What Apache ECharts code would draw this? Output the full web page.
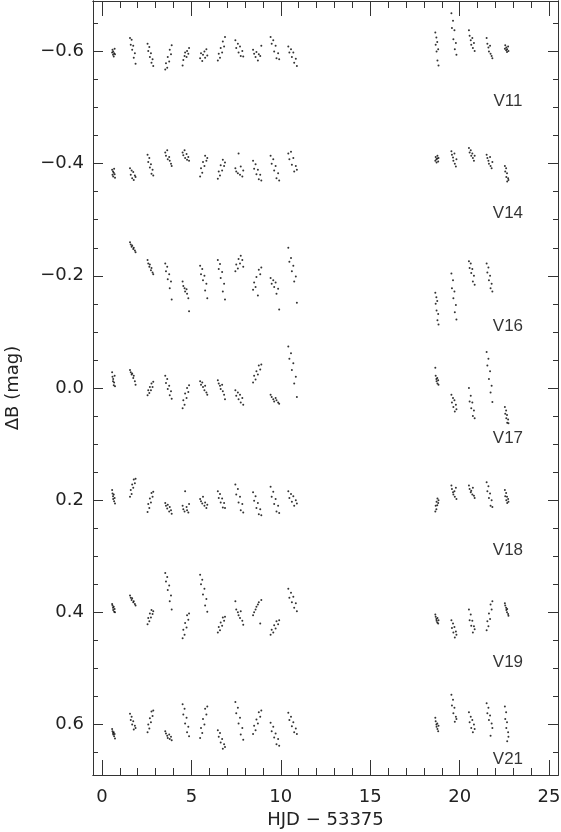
<!DOCTYPE html>
<html>
<head>
<meta charset="utf-8">
<script src="https://cdn.jsdelivr.net/npm/echarts@6.0.0/dist/echarts.min.js"></script>
<style>
  html, body { margin: 0; padding: 0; background: #fff; }
  #chart { width: 561px; height: 832px; }
</style>
</head>
<body>
<div id="chart"></div>
<script>
// observation times (HJD - 53375), same frames for every star
const hjd = [
    0.57, 0.59, 0.62, 0.63, 0.66, 0.68, 0.71, 0.73,
    1.57, 1.61, 1.66, 1.69, 1.75, 1.78, 1.84, 1.88,
    2.55, 2.59, 2.65, 2.68, 2.74, 2.77, 2.83, 2.87,
    3.54, 3.58, 3.65, 3.68, 3.76, 3.79, 3.86, 3.90,
    4.51, 4.55, 4.62, 4.65, 4.73, 4.76, 4.83, 4.87,
    5.49, 5.54, 5.61, 5.65, 5.73, 5.77, 5.84, 5.89,
    6.48, 6.53, 6.60, 6.64, 6.72, 6.76, 6.83, 6.88,
    7.46, 7.51, 7.60, 7.64, 7.72, 7.76, 7.85, 7.90,
    8.45, 8.51, 8.59, 8.64, 8.72, 8.77, 8.85, 8.91,
    9.43, 9.49, 9.58, 9.63, 9.71, 9.76, 9.85, 9.91,
    10.42, 10.48, 10.57, 10.62, 10.70, 10.75, 10.84, 10.90,
    18.64, 18.66, 18.70, 18.71, 18.75, 18.76, 18.80, 18.82,
    19.54, 19.57, 19.63, 19.65, 19.71, 19.73, 19.79, 19.82,
    20.52, 20.56, 20.62, 20.65, 20.71, 20.74, 20.80, 20.84,
    21.51, 21.55, 21.61, 21.64, 21.70, 21.73, 21.79, 21.83,
    22.53, 22.55, 22.60, 22.61, 22.65, 22.66, 22.71, 22.73
];

// delta B (offset per star), one value per time above
const v11 = [
    -0.598, -0.603, -0.594, -0.600, -0.591, -0.597, -0.605, -0.595,
    -0.624, -0.612, -0.621, -0.603, -0.610, -0.589, -0.597, -0.578,
    -0.614, -0.601, -0.608, -0.590, -0.597, -0.580, -0.586, -0.574,
    -0.568, -0.579, -0.571, -0.590, -0.582, -0.603, -0.595, -0.611,
    -0.575, -0.585, -0.592, -0.598, -0.590, -0.601, -0.596, -0.606,
    -0.588, -0.597, -0.583, -0.594, -0.600, -0.589, -0.604, -0.593,
    -0.584, -0.596, -0.589, -0.606, -0.598, -0.618, -0.609, -0.626,
    -0.620, -0.606, -0.614, -0.598, -0.609, -0.592, -0.601, -0.591,
    -0.603, -0.596, -0.590, -0.599, -0.584, -0.595, -0.592, -0.610,
    -0.626, -0.614, -0.620, -0.600, -0.610, -0.588, -0.597, -0.586,
    -0.609, -0.598, -0.604, -0.590, -0.598, -0.580, -0.587, -0.574,
    -0.634, -0.612, -0.625, -0.600, -0.617, -0.584, -0.604, -0.575,
    -0.668, -0.642, -0.655, -0.622, -0.638, -0.604, -0.615, -0.594,
    -0.638, -0.628, -0.620, -0.612, -0.624, -0.606, -0.615, -0.601,
    -0.624, -0.614, -0.607, -0.600, -0.610, -0.596, -0.592, -0.588,
    -0.605, -0.611, -0.602, -0.607, -0.599, -0.604, -0.609, -0.601
];

const v14 = [
    -0.389, -0.380, -0.386, -0.377, -0.384, -0.391, -0.381, -0.375,
    -0.392, -0.380, -0.388, -0.374, -0.385, -0.371, -0.379, -0.376,
    -0.416, -0.403, -0.410, -0.393, -0.399, -0.382, -0.389, -0.379,
    -0.420, -0.414, -0.424, -0.408, -0.412, -0.405, -0.400, -0.396,
    -0.420, -0.415, -0.424, -0.410, -0.417, -0.407, -0.412, -0.405,
    -0.377, -0.392, -0.384, -0.403, -0.396, -0.414, -0.405, -0.410,
    -0.373, -0.386, -0.379, -0.397, -0.388, -0.407, -0.396, -0.402,
    -0.392, -0.386, -0.383, -0.418, -0.380, -0.395, -0.377, -0.388,
    -0.405, -0.391, -0.399, -0.381, -0.389, -0.372, -0.380, -0.370,
    -0.414, -0.400, -0.408, -0.388, -0.396, -0.374, -0.383, -0.370,
    -0.418, -0.408, -0.421, -0.398, -0.410, -0.386, -0.396, -0.389,
    -0.405, -0.412, -0.408, -0.402, -0.409, -0.414, -0.404, -0.410,
    -0.422, -0.416, -0.411, -0.405, -0.418, -0.400, -0.395, -0.408,
    -0.428, -0.420, -0.424, -0.414, -0.418, -0.410, -0.405, -0.414,
    -0.416, -0.410, -0.405, -0.400, -0.412, -0.396, -0.392, -0.403,
    -0.396, -0.386, -0.392, -0.376, -0.383, -0.368, -0.374, -0.371
];

const v16 = [
    null, null, null, null, null, null, null, null,
    -0.260, -0.256, -0.252, -0.254, -0.248, -0.250, -0.245, -0.242,
    -0.228, -0.222, -0.216, -0.220, -0.210, -0.214, -0.206, -0.203,
    -0.222, -0.208, -0.216, -0.194, -0.203, -0.178, -0.190, -0.158,
    -0.190, -0.182, -0.178, -0.172, -0.176, -0.168, -0.160, -0.137,
    -0.218, -0.203, -0.212, -0.192, -0.200, -0.174, -0.186, -0.160,
    -0.228, -0.212, -0.221, -0.196, -0.207, -0.172, -0.186, -0.158,
    -0.208, -0.220, -0.213, -0.230, -0.222, -0.236, -0.228, -0.216,
    -0.175, -0.188, -0.180, -0.198, -0.165, -0.211, -0.203, -0.215,
    -0.196, -0.186, -0.192, -0.180, -0.188, -0.168, -0.177, -0.140,
    -0.250, -0.225, -0.232, -0.208, -0.218, -0.190, -0.199, -0.152,
    -0.170, -0.150, -0.162, -0.138, -0.155, -0.121, -0.132, -0.113,
    -0.204, -0.178, -0.192, -0.160, -0.172, -0.135, -0.148, -0.122,
    -0.226, -0.214, -0.222, -0.205, -0.212, -0.190, -0.200, -0.184,
    -0.222, -0.206, -0.215, -0.192, -0.200, -0.178, -0.186, -0.172,
    null, null, null, null, null, null, null, null
];

const v17 = [
    -0.028, -0.020, -0.012, -0.016, -0.005, -0.010, -0.022, -0.003,
    -0.032, -0.028, -0.024, -0.026, -0.018, -0.022, -0.012, -0.006,
    0.013, 0.004, 0.009, -0.002, 0.004, -0.008, -0.002, -0.011,
    -0.022, -0.009, -0.016, 0.002, -0.004, 0.013, 0.006, 0.019,
    0.036, 0.022, 0.030, 0.010, 0.018, 0.000, 0.007, -0.005,
    -0.012, -0.006, -0.010, -0.002, 0.004, -0.004, 0.008, 0.012,
    -0.014, -0.008, -0.004, 0.002, -0.006, 0.006, 0.012, 0.020,
    0.004, 0.014, 0.008, 0.020, 0.012, 0.026, 0.018, 0.030,
    -0.010, -0.022, -0.015, -0.030, -0.024, -0.040, -0.033, -0.042,
    0.012, 0.016, 0.020, 0.024, 0.018, 0.022, 0.026, 0.028,
    -0.074, -0.052, -0.062, -0.032, -0.044, -0.008, -0.020, 0.016,
    -0.036, -0.022, -0.016, -0.012, -0.018, -0.008, -0.014, -0.006,
    0.012, 0.026, 0.018, 0.034, 0.022, 0.042, 0.030, 0.038,
    0.000, 0.024, 0.014, 0.036, 0.026, 0.050, 0.040, 0.054,
    -0.064, -0.040, -0.052, -0.016, -0.030, 0.008, -0.004, 0.025,
    0.034, 0.046, 0.040, 0.054, 0.048, 0.062, 0.056, 0.063
];

const v18 = [
    0.182, 0.188, 0.193, 0.198, 0.190, 0.202, 0.196, 0.206,
    0.194, 0.182, 0.189, 0.172, 0.178, 0.163, 0.170, 0.162,
    0.221, 0.207, 0.214, 0.197, 0.204, 0.187, 0.194, 0.185,
    0.205, 0.210, 0.215, 0.208, 0.220, 0.212, 0.218, 0.224,
    0.210, 0.216, 0.220, 0.184, 0.212, 0.218, 0.222, 0.207,
    0.198, 0.202, 0.206, 0.194, 0.210, 0.204, 0.214, 0.208,
    0.184, 0.196, 0.189, 0.204, 0.197, 0.213, 0.205, 0.214,
    0.172, 0.190, 0.180, 0.204, 0.194, 0.218, 0.207, 0.222,
    0.186, 0.201, 0.193, 0.214, 0.205, 0.225, 0.216, 0.227,
    0.176, 0.194, 0.185, 0.207, 0.198, 0.220, 0.210, 0.223,
    0.184, 0.196, 0.189, 0.203, 0.193, 0.210, 0.200, 0.206,
    0.220, 0.210, 0.216, 0.203, 0.209, 0.197, 0.205, 0.200,
    0.174, 0.180, 0.186, 0.190, 0.184, 0.194, 0.178, 0.198,
    0.174, 0.180, 0.186, 0.183, 0.190, 0.178, 0.192, 0.196,
    0.168, 0.184, 0.175, 0.196, 0.188, 0.210, 0.200, 0.212,
    0.182, 0.193, 0.187, 0.200, 0.194, 0.205, 0.198, 0.203
];

const v19 = [
    0.385, 0.388, 0.392, 0.396, 0.390, 0.399, 0.394, 0.400,
    0.370, 0.374, 0.378, 0.375, 0.382, 0.380, 0.385, 0.388,
    0.421, 0.410, 0.416, 0.402, 0.409, 0.396, 0.403, 0.398,
    0.330, 0.345, 0.337, 0.360, 0.352, 0.380, 0.370, 0.395,
    0.446, 0.431, 0.440, 0.419, 0.427, 0.405, 0.413, 0.402,
    0.333, 0.350, 0.342, 0.368, 0.358, 0.388, 0.376, 0.399,
    0.436, 0.426, 0.432, 0.418, 0.424, 0.409, 0.415, 0.408,
    0.380, 0.395, 0.400, 0.405, 0.410, 0.398, 0.415, 0.422,
    0.405, 0.400, 0.395, 0.390, 0.386, 0.382, 0.420, 0.378,
    0.440, 0.431, 0.436, 0.423, 0.429, 0.416, 0.421, 0.414,
    0.358, 0.374, 0.365, 0.382, 0.372, 0.392, 0.384, 0.398,
    0.404, 0.408, 0.412, 0.415, 0.418, 0.410, 0.420, 0.414,
    0.414, 0.428, 0.420, 0.436, 0.426, 0.445, 0.434, 0.440,
    0.395, 0.414, 0.404, 0.424, 0.415, 0.436, 0.425, 0.430,
    0.432, 0.416, 0.425, 0.402, 0.412, 0.386, 0.395, 0.380,
    0.384, 0.388, 0.392, 0.396, 0.400, 0.394, 0.403, 0.406
];

const v21 = [
    0.608, 0.612, 0.615, 0.618, 0.614, 0.621, 0.617, 0.625,
    0.581, 0.592, 0.586, 0.600, 0.594, 0.609, 0.602, 0.606,
    0.614, 0.600, 0.607, 0.589, 0.596, 0.577, 0.585, 0.575,
    0.612, 0.616, 0.620, 0.624, 0.618, 0.626, 0.622, 0.628,
    0.564, 0.582, 0.572, 0.598, 0.588, 0.614, 0.604, 0.621,
    0.624, 0.606, 0.615, 0.590, 0.600, 0.572, 0.582, 0.568,
    0.610, 0.622, 0.615, 0.632, 0.626, 0.643, 0.635, 0.640,
    0.560, 0.580, 0.570, 0.598, 0.588, 0.618, 0.606, 0.627,
    0.617, 0.602, 0.610, 0.591, 0.598, 0.578, 0.586, 0.575,
    0.597, 0.612, 0.604, 0.623, 0.616, 0.635, 0.626, 0.638,
    0.579, 0.592, 0.586, 0.603, 0.596, 0.614, 0.607, 0.617,
    0.588, 0.594, 0.600, 0.604, 0.598, 0.608, 0.612, 0.602,
    0.547, 0.566, 0.556, 0.580, 0.570, 0.595, 0.586, 0.590,
    0.578, 0.596, 0.586, 0.606, 0.592, 0.614, 0.600, 0.608,
    0.562, 0.580, 0.570, 0.592, 0.584, 0.620, 0.598, 0.606,
    0.568, 0.590, 0.578, 0.606, 0.596, 0.630, 0.614, 0.622
];

const starNames = ['V11', 'V14', 'V16', 'V17', 'V18', 'V19', 'V21'];
const starData = [v11, v14, v16, v17, v18, v19, v21];
// where each star's name sits (delta B units), next to its curve
const nameLevels = [-0.512, -0.311, -0.110, 0.090, 0.290, 0.489, 0.662];

const xMajorTicks = [0, 5, 10, 15, 20, 25];
const xMinorTicks = [0, 1, 2, 3, 4, 5, 6, 7, 8, 9, 10, 11, 12, 13, 14, 15, 16, 17, 18, 19, 20, 21, 22, 23, 24, 25];
const yMajorTicks = [-0.6, -0.4, -0.2, 0.0, 0.2, 0.4, 0.6];
const yMinorTicks = [-0.65, -0.55, -0.5, -0.45, -0.35, -0.3, -0.25, -0.15, -0.1, -0.05,
    0.05, 0.1, 0.15, 0.25, 0.3, 0.35, 0.45, 0.5, 0.55, 0.65];


const LINE = '#333';
const TICK_FONT = 'DejaVu Sans';

function fmtY(v) {
    return v < 0 ? '\u2212' + Math.abs(v).toFixed(1) : v.toFixed(1);
}

function xAxisDef(position, ticks, len, withLabels) {
    return {
        type: 'value', position: position, min: -0.5, max: 25.5,
        axisLine: { show: true, onZero: false, lineStyle: { color: LINE, width: 1 } },
        axisTick: { show: true, inside: true, length: len, customValues: ticks, lineStyle: { color: LINE } },
        axisLabel: withLabels ? {
            show: true, customValues: ticks, margin: 13,
            fontFamily: TICK_FONT, fontSize: 18, color: '#222'
        } : { show: false },
        splitLine: { show: false }
    };
}

function yAxisDef(position, ticks, len, withLabels) {
    return {
        type: 'value', position: position, min: -0.69, max: 0.69, inverse: true,
        axisLine: { show: true, onZero: false, lineStyle: { color: LINE, width: 1 } },
        axisTick: { show: true, inside: true, length: len, customValues: ticks, lineStyle: { color: LINE } },
        axisLabel: withLabels ? {
            show: true, customValues: ticks, margin: 9, formatter: fmtY,
            fontFamily: TICK_FONT, fontSize: 18, color: '#222'
        } : { show: false },
        splitLine: { show: false }
    };
}

const xMain = xAxisDef('bottom', xMajorTicks, 15, true);
xMain.name = 'HJD \u2212 53375';
xMain.nameLocation = 'middle';
xMain.nameGap = 29;
xMain.nameTextStyle = { fontFamily: TICK_FONT, fontSize: 18, color: '#222' };

const yMain = yAxisDef('left', yMajorTicks, 10, true);
yMain.name = '\u0394B (mag)';
yMain.nameLocation = 'middle';
yMain.nameGap = 71;
yMain.nameTextStyle = { fontFamily: TICK_FONT, fontSize: 18, color: '#222' };

const series = starData.map((vals, k) => ({
    name: starNames[k],
    type: 'scatter',
    xAxisIndex: 0,
    yAxisIndex: 0,
    symbol: 'circle',
    symbolSize: 2,
    silent: true,
    itemStyle: { color: '#000' },
    data: hjd.map((t, i) => [t, vals[i]]).filter(p => p[1] !== null)
}));

// star names beside each light curve
series.push({
    type: 'scatter',
    xAxisIndex: 0,
    yAxisIndex: 0,
    symbolSize: 0,
    silent: true,
    label: {
        show: true,
        position: 'inside',
        formatter: p => p.value[2],
        fontFamily: 'Liberation Sans',
        fontSize: 17,
        color: '#000'
    },
    data: starNames.map((n, k) => [22.7, nameLevels[k], n])
});

const chart = echarts.init(document.getElementById('chart'));
chart.setOption({
    animation: false,
    backgroundColor: '#fff',
    grid: { left: 93, right: 3, top: 1, bottom: 57, containLabel: false, outerBoundsMode: 'none' },
    xAxis: [
        xMain,
        xAxisDef('bottom', xMinorTicks, 7, false),
        xAxisDef('top', xMajorTicks, 15, false),
        xAxisDef('top', xMinorTicks, 7, false)
    ],
    yAxis: [
        yMain,
        yAxisDef('left', yMinorTicks, 5, false),
        yAxisDef('right', yMajorTicks, 10, false),
        yAxisDef('right', yMinorTicks, 5, false)
    ],
    series: series
});
</script>
</body>
</html>
